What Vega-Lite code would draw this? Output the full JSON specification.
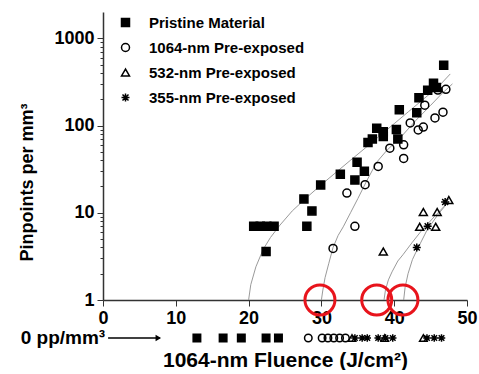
{
  "$schema": "https://vega.github.io/schema/vega-lite/v6.json",
  "background": "white",
  "padding": {"left": 18, "top": 12, "right": 5, "bottom": 0},
  "config": {"view": {"stroke": null}, "font": "Liberation Sans", "axis": {"grid": false}},
  "spacing": 0,
  "datasets": {
    "pts": [
      {"s": "Pristine Material", "f": 20.7, "n": 7}, {"s": "Pristine Material", "f": 21.6, "n": 7}, {"s": "Pristine Material", "f": 22.5, "n": 7}, {"s": "Pristine Material", "f": 23.5, "n": 7},
      {"s": "Pristine Material", "f": 22.4, "n": 3.6}, {"s": "Pristine Material", "f": 27.6, "n": 14.4}, {"s": "Pristine Material", "f": 28.7, "n": 10.5}, {"s": "Pristine Material", "f": 28.0, "n": 7.0},
      {"s": "Pristine Material", "f": 29.9, "n": 20.8}, {"s": "Pristine Material", "f": 32.6, "n": 27.7}, {"s": "Pristine Material", "f": 34.9, "n": 38}, {"s": "Pristine Material", "f": 35.9, "n": 30},
      {"s": "Pristine Material", "f": 34.6, "n": 23.7}, {"s": "Pristine Material", "f": 36.4, "n": 64}, {"s": "Pristine Material", "f": 37.0, "n": 70}, {"s": "Pristine Material", "f": 37.6, "n": 93},
      {"s": "Pristine Material", "f": 38.5, "n": 85}, {"s": "Pristine Material", "f": 38.5, "n": 75}, {"s": "Pristine Material", "f": 40.3, "n": 90}, {"s": "Pristine Material", "f": 40.5, "n": 70},
      {"s": "Pristine Material", "f": 40.7, "n": 152}, {"s": "Pristine Material", "f": 43.1, "n": 140}, {"s": "Pristine Material", "f": 43.4, "n": 208}, {"s": "Pristine Material", "f": 44.6, "n": 254},
      {"s": "Pristine Material", "f": 45.4, "n": 305}, {"s": "Pristine Material", "f": 45.8, "n": 272}, {"s": "Pristine Material", "f": 46.8, "n": 490},
      {"s": "1064-nm Pre-exposed", "f": 31.6, "n": 3.9}, {"s": "1064-nm Pre-exposed", "f": 33.5, "n": 16.8}, {"s": "1064-nm Pre-exposed", "f": 34.6, "n": 7.0}, {"s": "1064-nm Pre-exposed", "f": 36.0, "n": 21},
      {"s": "1064-nm Pre-exposed", "f": 37.8, "n": 34}, {"s": "1064-nm Pre-exposed", "f": 39.4, "n": 55}, {"s": "1064-nm Pre-exposed", "f": 41.3, "n": 60}, {"s": "1064-nm Pre-exposed", "f": 41.3, "n": 42},
      {"s": "1064-nm Pre-exposed", "f": 42.2, "n": 107}, {"s": "1064-nm Pre-exposed", "f": 43.3, "n": 89}, {"s": "1064-nm Pre-exposed", "f": 44.0, "n": 96}, {"s": "1064-nm Pre-exposed", "f": 44.2, "n": 171},
      {"s": "1064-nm Pre-exposed", "f": 45.6, "n": 122}, {"s": "1064-nm Pre-exposed", "f": 46.7, "n": 142}, {"s": "1064-nm Pre-exposed", "f": 46.0, "n": 255}, {"s": "1064-nm Pre-exposed", "f": 47.1, "n": 260},
      {"s": "532-nm Pre-exposed", "f": 38.5, "n": 3.6}, {"s": "532-nm Pre-exposed", "f": 43.5, "n": 6.9}, {"s": "532-nm Pre-exposed", "f": 45.7, "n": 6.9}, {"s": "532-nm Pre-exposed", "f": 44.0, "n": 10.2},
      {"s": "532-nm Pre-exposed", "f": 45.9, "n": 10.2}, {"s": "532-nm Pre-exposed", "f": 47.5, "n": 14},
      {"s": "355-nm Pre-exposed", "f": 43.1, "n": 4.0}, {"s": "355-nm Pre-exposed", "f": 44.6, "n": 7.0}, {"s": "355-nm Pre-exposed", "f": 47.0, "n": 13.3}
    ],
    "fits": [
      {"c": "P", "f": 20, "n": 1}, {"c": "P", "f": 20.3, "n": 1.5}, {"c": "P", "f": 21, "n": 2.4}, {"c": "P", "f": 22, "n": 3.8}, {"c": "P", "f": 23, "n": 5.2}, {"c": "P", "f": 24.3, "n": 7.2},
      {"c": "P", "f": 26, "n": 10.5}, {"c": "P", "f": 28, "n": 15}, {"c": "P", "f": 30, "n": 21}, {"c": "P", "f": 32, "n": 29}, {"c": "P", "f": 34, "n": 40}, {"c": "P", "f": 36, "n": 55},
      {"c": "P", "f": 38, "n": 76}, {"c": "P", "f": 40, "n": 105}, {"c": "P", "f": 42, "n": 145}, {"c": "P", "f": 44, "n": 200}, {"c": "P", "f": 46, "n": 275}, {"c": "P", "f": 47.7, "n": 390},
      {"c": "A", "f": 30, "n": 1}, {"c": "A", "f": 30.2, "n": 1.3}, {"c": "A", "f": 30.5, "n": 1.8}, {"c": "A", "f": 31, "n": 2.6}, {"c": "A", "f": 31.6, "n": 4}, {"c": "A", "f": 32.3, "n": 5.5},
      {"c": "A", "f": 33, "n": 6.9}, {"c": "A", "f": 34, "n": 10}, {"c": "A", "f": 35, "n": 14.5}, {"c": "A", "f": 36.2, "n": 23}, {"c": "A", "f": 37.6, "n": 38}, {"c": "A", "f": 39, "n": 52},
      {"c": "A", "f": 41, "n": 75}, {"c": "A", "f": 43, "n": 115}, {"c": "A", "f": 45, "n": 170}, {"c": "A", "f": 46.5, "n": 230}, {"c": "A", "f": 48, "n": 300},
      {"c": "B", "f": 38.6, "n": 1}, {"c": "B", "f": 38.8, "n": 1.3}, {"c": "B", "f": 39.2, "n": 1.7}, {"c": "B", "f": 39.7, "n": 2.1}, {"c": "B", "f": 40.5, "n": 2.8}, {"c": "B", "f": 41.2, "n": 3.3},
      {"c": "B", "f": 42.5, "n": 4.6}, {"c": "B", "f": 43.8, "n": 6.3}, {"c": "B", "f": 45.5, "n": 9}, {"c": "B", "f": 47.5, "n": 13.5},
      {"c": "C", "f": 41.3, "n": 1}, {"c": "C", "f": 41.5, "n": 1.4}, {"c": "C", "f": 41.9, "n": 2.0}, {"c": "C", "f": 42.5, "n": 2.9}, {"c": "C", "f": 43.1, "n": 3.7}, {"c": "C", "f": 44.5, "n": 6.3},
      {"c": "C", "f": 46, "n": 9.5}, {"c": "C", "f": 47.5, "n": 13.5}
    ],
    "rings": [{"f": 29.8, "n": 1}, {"f": 37.6, "n": 1}, {"f": 41.2, "n": 1}],
    "zero": [
      {"s": "Pristine Material", "f": 12.9, "lvl": "0"}, {"s": "Pristine Material", "f": 16.5, "lvl": "0"}, {"s": "Pristine Material", "f": 19.0, "lvl": "0"}, {"s": "Pristine Material", "f": 22.4, "lvl": "0"}, {"s": "Pristine Material", "f": 24.1, "lvl": "0"},
      {"s": "1064-nm Pre-exposed", "f": 28.2, "lvl": "0"}, {"s": "1064-nm Pre-exposed", "f": 30.1, "lvl": "0"}, {"s": "1064-nm Pre-exposed", "f": 30.9, "lvl": "0"}, {"s": "1064-nm Pre-exposed", "f": 31.7, "lvl": "0"}, {"s": "1064-nm Pre-exposed", "f": 32.5, "lvl": "0"}, {"s": "1064-nm Pre-exposed", "f": 33.3, "lvl": "0"},
      {"s": "532-nm Pre-exposed", "f": 34.2, "lvl": "0"}, {"s": "532-nm Pre-exposed", "f": 38.7, "lvl": "0"}, {"s": "532-nm Pre-exposed", "f": 44.0, "lvl": "0"},
      {"s": "355-nm Pre-exposed", "f": 34.6, "lvl": "0"}, {"s": "355-nm Pre-exposed", "f": 35.6, "lvl": "0"}, {"s": "355-nm Pre-exposed", "f": 36.3, "lvl": "0"}, {"s": "355-nm Pre-exposed", "f": 37.8, "lvl": "0"}, {"s": "355-nm Pre-exposed", "f": 38.8, "lvl": "0"}, {"s": "355-nm Pre-exposed", "f": 39.8, "lvl": "0"},
      {"s": "355-nm Pre-exposed", "f": 44.5, "lvl": "0"}, {"s": "355-nm Pre-exposed", "f": 45.5, "lvl": "0"}, {"s": "355-nm Pre-exposed", "f": 46.5, "lvl": "0"}
    ],
    "arrow": [{"f": 0.7, "lvl": "0"}, {"f": 7.8, "lvl": "0"}],
    "head": [{"f": 7.6, "lvl": "0"}],
    "label": [{"f": 0.3, "lvl": "0", "t": "0 pp/mm³"}]
  },
  "resolve": {"scale": {"x": "independent", "shape": "independent", "fill": "independent", "stroke": "independent"}},
  "vconcat": [
    {
      "width": 364,
      "height": 288,
      "layer": [
        {
          "data": {"name": "fits"},
          "mark": {"type": "line", "color": "#9a9a9a", "strokeWidth": 1},
          "encoding": {
            "x": {"field": "f", "type": "quantitative", "scale": {"domain": [0, 50], "nice": false, "zero": false},
              "axis": {"values": [0, 2.5, 5, 7.5, 10, 12.5, 15, 17.5, 20, 22.5, 25, 27.5, 30, 32.5, 35, 37.5, 40, 42.5, 45, 47.5, 50],
                "labelExpr": "datum.value % 5 === 0 ? format(datum.value, 'd') : ''", "labelOverlap": false, "labelFlush": false,
                "tickSize": {"condition": {"test": "datum.value % 5 === 0", "value": 6}, "value": 3},
                "labelFontSize": 18, "labelFontWeight": "bold", "labelColor": "black", "labelPadding": 3, "title": null,
                "domainColor": "#333", "domainWidth": 1.5, "tickColor": "#333"}},
            "y": {"field": "n", "type": "quantitative", "scale": {"type": "log", "domain": [1, 2000], "nice": false},
              "axis": {"values": [1, 2, 3, 4, 5, 6, 7, 8, 9, 10, 20, 30, 40, 50, 60, 70, 80, 90, 100, 200, 300, 400, 500, 600, 700, 800, 900, 1000],
                "labelExpr": "indexof([1,10,100,1000], datum.value) >= 0 ? format(datum.value, 'd') : ''", "labelOverlap": false,
                "tickSize": {"condition": {"test": "indexof([1,10,100,1000], datum.value) >= 0", "value": 6}, "value": 3},
                "labelFontSize": 18, "labelFontWeight": "bold", "labelColor": "black", "labelPadding": 3,
                "title": "Pinpoints per mm³", "titleFontSize": 18, "titleFontWeight": "bold", "titleColor": "black",
                "titleX": -71, "titleY": 170, "titleBaseline": "alphabetic", "titleAlign": "center", "titleAngle": 270,
                "domainColor": "#333", "domainWidth": 1.5, "tickColor": "#333"}},
            "detail": {"field": "c"}
          }
        },
        {
          "data": {"name": "pts"},
          "mark": {"type": "point", "filled": true, "strokeWidth": 1.5, "size": 64, "opacity": 1},
          "encoding": {
            "x": {"field": "f", "type": "quantitative"},
            "y": {"field": "n", "type": "quantitative"},
            "shape": {"field": "s", "type": "nominal",
              "scale": {"domain": ["Pristine Material", "1064-nm Pre-exposed", "532-nm Pre-exposed", "355-nm Pre-exposed"],
                "range": ["square", "circle", "triangle-up", "M-1,0L1,0M0,-1L0,1M-0.75,-0.75L0.75,0.75M-0.75,0.75L0.75,-0.75"]},
              "legend": {"orient": "none", "legendX": 15, "legendY": 3, "title": null, "labelFontSize": 15, "labelFontWeight": "bold", "labelColor": "black",
                "symbolSize": 64, "symbolStrokeWidth": 1.5, "rowPadding": 9, "labelOffset": 16, "padding": 0}},
            "fill": {"field": "s", "type": "nominal",
              "scale": {"domain": ["Pristine Material", "1064-nm Pre-exposed", "532-nm Pre-exposed", "355-nm Pre-exposed"],
                "range": ["black", "transparent", "transparent", "transparent"]},
              "legend": {"orient": "none", "legendX": 15, "legendY": 3, "title": null, "labelFontSize": 15, "labelFontWeight": "bold", "labelColor": "black",
                "symbolSize": 64, "symbolStrokeWidth": 1.5, "rowPadding": 9, "labelOffset": 16, "padding": 0}},
            "stroke": {"field": "s", "type": "nominal",
              "scale": {"domain": ["Pristine Material", "1064-nm Pre-exposed", "532-nm Pre-exposed", "355-nm Pre-exposed"],
                "range": ["black", "black", "black", "black"]},
              "legend": {"orient": "none", "legendX": 15, "legendY": 3, "title": null, "labelFontSize": 15, "labelFontWeight": "bold", "labelColor": "black",
                "symbolSize": 64, "symbolStrokeWidth": 1.5, "rowPadding": 9, "labelOffset": 16, "padding": 0}}
          }
        },
        {
          "data": {"name": "rings"},
          "mark": {"type": "point", "filled": false, "shape": "circle", "stroke": "#e8141c", "strokeWidth": 3, "size": 900, "opacity": 1, "clip": false},
          "encoding": {
            "x": {"field": "f", "type": "quantitative"},
            "y": {"field": "n", "type": "quantitative"}
          }
        }
      ]
    },
    {
      "width": 364,
      "height": 22,
      "layer": [
        {
          "data": {"name": "zero"},
          "mark": {"type": "point", "filled": true, "stroke": "black", "strokeWidth": 1.5, "size": 56, "opacity": 1},
          "encoding": {
            "x": {"field": "f", "type": "quantitative", "scale": {"domain": [0, 50], "nice": false, "zero": false},
              "axis": {"domain": false, "ticks": false, "labels": false, "grid": false, "title": "1064-nm Fluence (J/cm²)",
                "titleFontSize": 21, "titleFontWeight": "bold", "titleColor": "black", "titlePadding": 0}},
            "y": {"field": "lvl", "type": "nominal", "axis": null},
            "shape": {"field": "s", "type": "nominal",
              "scale": {"domain": ["Pristine Material", "1064-nm Pre-exposed", "532-nm Pre-exposed", "355-nm Pre-exposed"],
                "range": ["square", "circle", "triangle-up", "M-1,0L1,0M0,-1L0,1M-0.75,-0.75L0.75,0.75M-0.75,0.75L0.75,-0.75"]}, "legend": null},
            "fill": {"field": "s", "type": "nominal",
              "scale": {"domain": ["Pristine Material", "1064-nm Pre-exposed", "532-nm Pre-exposed", "355-nm Pre-exposed"],
                "range": ["black", "transparent", "transparent", "transparent"]}, "legend": null}
          }
        },
        {
          "data": {"name": "arrow"},
          "mark": {"type": "line", "color": "black", "strokeWidth": 1.5},
          "encoding": {
            "x": {"field": "f", "type": "quantitative"},
            "y": {"field": "lvl", "type": "nominal"}
          }
        },
        {
          "data": {"name": "head"},
          "mark": {"type": "point", "shape": "triangle-right", "filled": true, "color": "black", "size": 40, "opacity": 1},
          "encoding": {
            "x": {"field": "f", "type": "quantitative"},
            "y": {"field": "lvl", "type": "nominal"}
          }
        },
        {
          "data": {"name": "label"},
          "mark": {"type": "text", "align": "right", "baseline": "middle", "fontSize": 19, "fontWeight": "bold", "color": "black"},
          "encoding": {
            "x": {"field": "f", "type": "quantitative"},
            "y": {"field": "lvl", "type": "nominal"},
            "text": {"field": "t"}
          }
        }
      ]
    }
  ]
}
